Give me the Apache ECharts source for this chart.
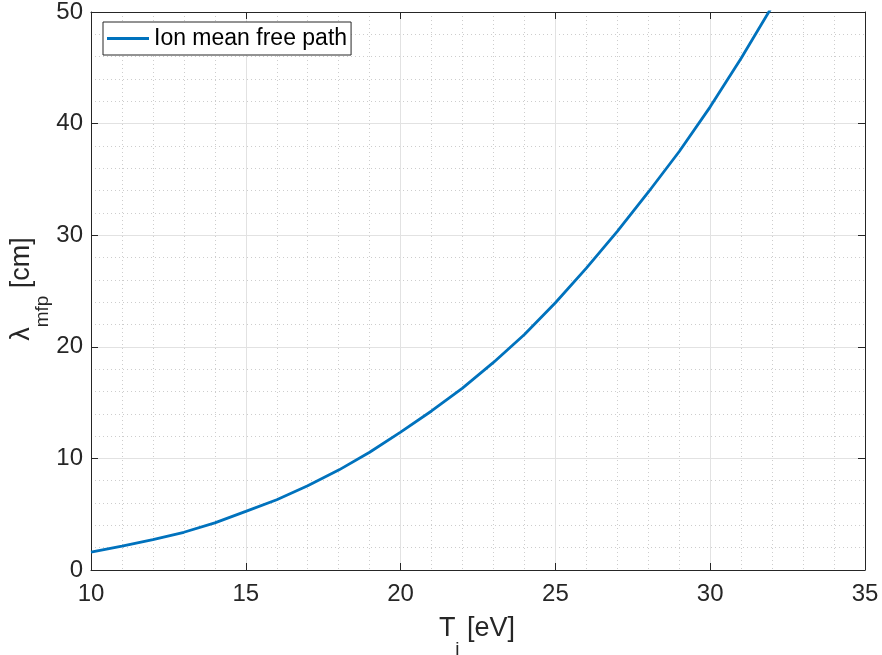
<!DOCTYPE html>
<html>
<head>
<meta charset="utf-8">
<script src="https://cdn.jsdelivr.net/npm/echarts@6/dist/echarts.min.js"></script>
<style>
  html, body { margin: 0; padding: 0; background: #ffffff; }
  #chart { width: 882px; height: 655px; }
</style>
</head>
<body>
<div id="chart"></div>
<script>
// Ion temperature [eV] and corresponding ion mean free path [cm]
const ionTemperature = [10, 11, 12, 13, 14, 15, 16, 17, 18, 19, 20, 21, 22, 23, 24, 25, 26, 27, 28, 29, 30, 31, 32];
const meanFreePath = [1.6, 2.15, 2.72, 3.38, 4.22, 5.25, 6.3, 7.55, 8.95, 10.55, 12.35, 14.25, 16.3, 18.6, 21.1, 23.95, 27.05, 30.35, 33.85, 37.5, 41.5, 45.85, 50.5];

const xTicks = [10, 15, 20, 25, 30, 35];
const yTicks = [0, 10, 20, 30, 40, 50];
const seriesName = 'Ion mean free path';

const FONT = '"Liberation Sans", Arial, Helvetica, sans-serif';
const AXIS_COLOR = '#262626';
const LINE_COLOR = '#0072BD';

const chart = echarts.init(document.getElementById('chart'), null, { renderer: 'canvas' });

const baseAxis = (ticks, pos, withLabels, minorSplit) => ({
  type: 'value',
  position: pos,
  min: ticks[0],
  max: ticks[ticks.length - 1],
  interval: ticks[1] - ticks[0],
  axisLine: { show: true, onZero: false, lineStyle: { color: AXIS_COLOR, width: 1 } },
  axisTick: { show: true, inside: true, length: 7, lineStyle: { color: AXIS_COLOR, width: 1 } },
  axisLabel: {
    show: withLabels,
    color: AXIS_COLOR,
    fontFamily: FONT,
    fontSize: 24,
    margin: pos === 'bottom' ? 12 : 8
  },
  splitLine: { show: withLabels, lineStyle: { color: '#e2e2e2', width: 1 } },
  minorTick: { show: false, splitNumber: minorSplit },
  minorSplitLine: { show: withLabels, lineStyle: { color: '#cdcdcd', width: 1, type: [1, 3] } }
});

const curve = ionTemperature.map((t, i) => [t, meanFreePath[i]]);

// Shared rich-text styles for axis titles with subscripts
const titleRich = {
  n: { fontSize: 27, fontFamily: FONT, fill: AXIS_COLOR, color: AXIS_COLOR, verticalAlign: 'top', lineHeight: 30 },
  s: { fontSize: 19, fontFamily: FONT, fill: AXIS_COLOR, color: AXIS_COLOR, verticalAlign: 'top', padding: [25, 0, 0, 0] }
};

chart.setOption({
  animation: false,
  backgroundColor: '#ffffff',
  grid: { left: 91, right: 17, top: 10, bottom: 85, containLabel: false },
  xAxis: [
    baseAxis(xTicks, 'bottom', true, 5),
    baseAxis(xTicks, 'top', false, 5)
  ],
  yAxis: [
    baseAxis(yTicks, 'left', true, 5),
    baseAxis(yTicks, 'right', false, 5)
  ],
  legend: {
    data: [seriesName],
    left: 103,
    top: 22,
    orient: 'vertical',
    padding: [5, 4, 5, 4],
    borderColor: AXIS_COLOR,
    borderWidth: 1,
    borderRadius: 0,
    backgroundColor: '#ffffff',
    itemWidth: 42,
    itemHeight: 3,
    itemGap: 0,
    icon: 'rect',
    textStyle: { color: '#000000', fontFamily: FONT, fontSize: 23, padding: [0, 0, 0, 0] }
  },
  series: [{
    name: seriesName,
    type: 'line',
    data: curve,
    symbol: 'none',
    smooth: false,
    clip: true,
    lineStyle: { color: LINE_COLOR, width: 2.8 },
    itemStyle: { color: LINE_COLOR }
  }],
  graphic: [
    {
      type: 'text',
      x: 477,
      y: 637,
      style: {
        text: '{n|T}{s|i}{n| [eV]}',
        align: 'center',
        verticalAlign: 'middle',
        fill: AXIS_COLOR,
        rich: titleRich
      }
    },
    {
      type: 'text',
      x: 30,
      y: 289,
      rotation: Math.PI / 2,
      style: {
        text: '{n|λ}{s|mfp}{n| [cm]}',
        align: 'center',
        verticalAlign: 'middle',
        fill: AXIS_COLOR,
        rich: titleRich
      }
    }
  ]
});
</script>
</body>
</html>
